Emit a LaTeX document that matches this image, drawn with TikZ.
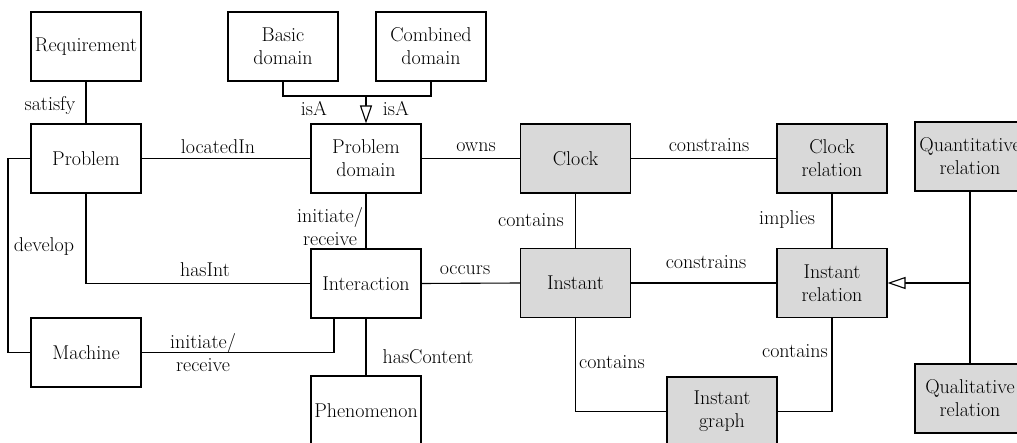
\documentclass[tikz,border=0pt]{standalone}
\usetikzlibrary{arrows.meta}
\definecolor{boxgrey}{RGB}{217,217,217}
\begin{document}
\begin{tikzpicture}[x=1pt,y=-1pt,
  every node/.style={font=\fontsize{20}{23}\selectfont},
  box/.style={draw, line width=1.1pt, minimum width=110pt, minimum height=69pt, inner sep=0pt, align=center, fill=white},
  gbox/.style={box, fill=boxgrey},
  conn/.style={line width=1.1pt},
  gen/.style={line width=1.1pt, -{Triangle[open, length=18pt, width=12pt, fill=white]}},
  lbl/.style={inner sep=0pt, align=center}]
\useasboundingbox (0,0) rectangle (1017,443);
\clip (0,0) rectangle (1017,443);
% nodes
\node[box] (req) at (86,46.5) {Requirement};
\node[box] (basic) at (283,46.5) {Basic\\domain};
\node[box] (comb) at (431,46.5) {Combined\\domain};
\node[box] (prob) at (86,158.5) {Problem};
\node[box] (pd) at (366,158.5) {Problem\\domain};
\node[gbox] (clock) at (575.5,158.5) {Clock};
\node[gbox] (clockrel) at (832,158.5) {Clock\\relation};
\node[gbox] (quant) at (970,156.5) {Quantitative\\relation};
\node[box] (inter) at (366,283.5) {Interaction};
\node[gbox] (instant) at (575.5,283) {Instant};
\node[gbox] (instrel) at (832,283) {Instant\\relation};
\node[box] (machine) at (86,352.5) {Machine};
\node[box] (phen) at (366,410.5) {Phenomenon};
\node[gbox] (graph) at (722,411.5) {Instant\\graph};
\node[gbox] (qual) at (970,398.5) {Qualitative\\relation};
% junction coordinates
\coordinate (isaj) at (366,96);
\coordinate (devc) at (8,158.5);
\coordinate (mi) at (334,318);
\coordinate (gj) at (970,283);
% connectors
\draw[conn] (req.south) -- (prob.north);
\draw[conn] (prob.east) -- (pd.west);
\draw[conn] (basic.south) |- (isaj) -| (comb.south);
\draw[gen] (isaj) -- (pd.north);
\draw[conn] (pd.east) -- (clock.west);
\draw[conn] (clock.east) -- (clockrel.west);
\draw[conn] (prob.west) -- (devc) |- (machine.west);
\draw[conn] (prob.south) |- (inter.west);
\draw[conn] (pd.south) -- (inter.north);
\draw[conn] (machine.east) -| (mi);
\draw[conn] (inter.south) -- (phen.north);
\draw[conn] (inter.east) -- (instant.west);
\draw[conn] (clock.south) -- (instant.north);
\draw[conn] (clockrel.south) -- (instrel.north);
\draw[conn] (instant.east) -- (instrel.west);
\draw[conn] (instant.south) |- (graph.west);
\draw[conn] (graph.east) -| (instrel.south);
\draw[conn] (quant.south) -- (qual.north);
\draw[gen] (gj) -- (instrel.east);
% labels
\node[lbl] (l1) at (50,106) {satisfy};
\node[lbl] (l2) at (218,147) {locatedIn};
\node[lbl] (l3) at (314,109) {isA};
\node[lbl] (l4) at (396,109) {isA};
\node[lbl] (l5) at (476,147) {owns};
\node[lbl] (l6) at (709,145) {constrains};
\node[lbl] (l7) at (330,227) {initiate/\\receive};
\node[lbl] (l8) at (531,220) {contains};
\node[lbl] (l9) at (787,220) {implies};
\node[lbl] (l10) at (44,247) {develop};
\node[lbl] (l11) at (205,270) {hasInt};
\node[lbl] (l12) at (465,270) {occurs};
\node[lbl] (l13) at (706,262) {constrains};
\node[lbl] (l14) at (203,353) {initiate/\\receive};
\node[lbl] (l15) at (428,357) {hasContent};
\node[lbl] (l16) at (612,362) {contains};
\node[lbl] (l17) at (795,351) {contains};
\end{tikzpicture}
\end{document}
